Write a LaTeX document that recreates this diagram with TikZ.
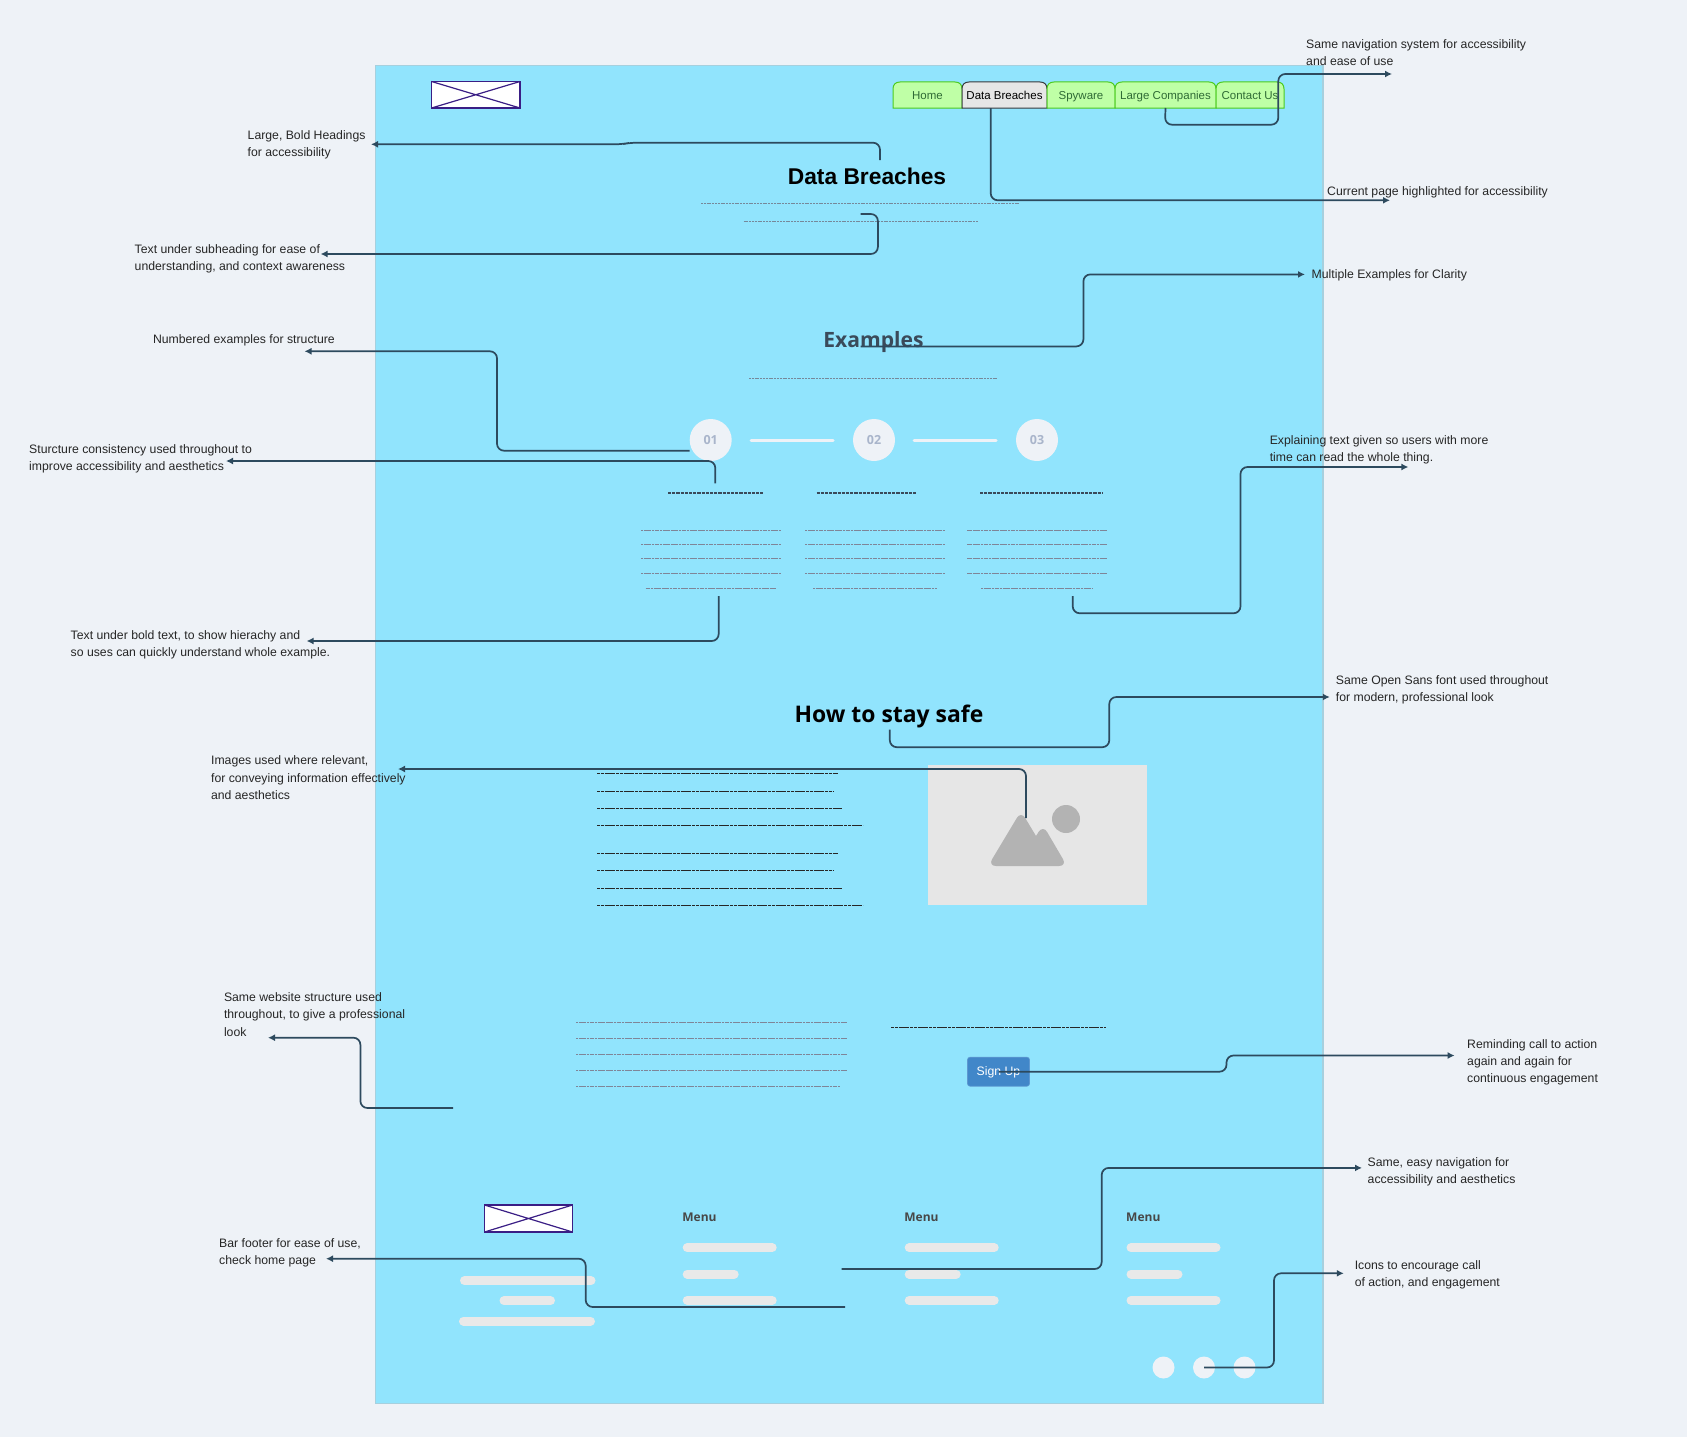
\documentclass[tikz,border=0pt]{standalone}
\usepackage{fontspec}
\setmainfont{Liberation Sans}
\newfontfamily\osans{Open Sans}
\usetikzlibrary{arrows.meta}
\definecolor{pagebg}{HTML}{EEF2F7}
\definecolor{panelblue}{HTML}{91E4FD}
\definecolor{paneledge}{HTML}{A6D0DE}
\definecolor{conncol}{HTML}{2D4A5E}
\definecolor{logoedge}{HTML}{3A1E85}
\definecolor{tabfill}{HTML}{BFFFA6}
\definecolor{tabedge}{HTML}{4CCB1F}
\definecolor{tabtext}{HTML}{2F6B35}
\definecolor{tabsel}{HTML}{E6E6E6}
\definecolor{tabseledge}{HTML}{36393D}
\definecolor{numcol}{HTML}{A9B5CB}
\definecolor{barcol}{HTML}{E9E9E9}
\definecolor{imgbox}{HTML}{E6E6E6}
\definecolor{imgmark}{HTML}{B3B3B3}
\definecolor{bodyline}{HTML}{7F8598}
\definecolor{subline}{HTML}{76889A}
\definecolor{btnblue}{HTML}{4187C9}
\definecolor{headcol}{HTML}{3A4A5A}
\tikzset{
  x=1pt,y=-1pt,
  note/.style={anchor=west,inner sep=0pt,align=left,font=\fontsize{12.25}{17.3}\selectfont,text=black!85},
  conn/.style={draw=conncol,line width=1.7pt,rounded corners=7pt,-{Latex[length=7pt,width=7pt]}},
  tabshape/.style={draw=tabedge,fill=tabfill,line width=1pt},
  seltab/.style={draw=tabseledge,fill=tabsel,line width=1pt},
  tablabel/.style={inner sep=0pt,text height=9pt,text depth=2.5pt,font=\fontsize{11.5}{14}\selectfont},
  logobox/.style={draw=logoedge,fill=white,line width=1.8pt},
  logoline/.style={draw=logoedge,line width=1.2pt},
  thindash/.style={draw=subline,line width=.6pt,dash pattern=on 2pt off .8pt},
  bodydash/.style={draw=bodyline,line width=.8pt,dash pattern=on 2.2pt off .5pt},
  darkdash/.style={draw=black!85,line width=1pt,dash pattern=on 3.2pt off .6pt},
  headdash/.style={draw=headcol,line width=1.6pt,dash pattern=on 3.2pt off 1pt},
  numcircle/.style={circle,fill=pagebg,minimum size=42pt,inner sep=0pt,text=numcol,font=\osans\bfseries\fontsize{12.5}{14}\selectfont},
  stepline/.style={draw=pagebg,line width=3pt,line cap=round},
  barline/.style={draw=barcol,line width=9pt,line cap=round},
  menulabel/.style={anchor=west,inner sep=0pt,text=black!72,font=\osans\bfseries\fontsize{12}{14}\selectfont},
  dotcircle/.style={circle,fill=pagebg,minimum size=22pt,inner sep=0pt},
}
\newcommand{\navtab}[6]{%
  \draw[#6] (#2,108) -- (#2,89) .. controls (#2,84.5) and (#2+2.5,82) .. (#2+7,82) -- (#3-7,82) .. controls (#3-2.5,82) and (#3,84.5) .. (#3,89) -- (#3,108) -- cycle;
  \node[tablabel,text=#5] (#1) at ({(#2+#3)/2},96.5) {#4};
}
\begin{document}
\begin{tikzpicture}
\useasboundingbox (0,0) rectangle (1687,1437);
\fill[pagebg] (0,0) rectangle (1687,1437);
\draw[paneledge,fill=panelblue,line width=1.4pt] (375.5,65.5) rectangle (1323,1403.5);

% header logo
\draw[logobox] (431.5,81.5) rectangle (520,108);
\draw[logoline] (431.5,81.5) -- (520,108) (431.5,108) -- (520,81.5);

% nav tabs
\navtab{tabhome}{893}{962}{Home}{tabtext}{tabshape}
\navtab{tabdata}{962}{1047}{Data Breaches}{black}{seltab}
\navtab{tabspy}{1047}{1115}{Spyware}{tabtext}{tabshape}
\navtab{tablarge}{1115}{1216}{Large Companies}{tabtext}{tabshape}
\navtab{tabcontact}{1216}{1284}{Contact Us}{tabtext}{tabshape}

% headings
\node[inner sep=0pt,font=\bfseries\fontsize{22.8}{28}\selectfont] (title) at (867,176) {Data Breaches};
\draw[thindash] (701,203.5) -- (1020,203.5);
\draw[thindash] (743.5,221.5) -- (978,221.5);

\node[inner sep=0pt,text=headcol,font=\osans\bfseries\fontsize{21.1}{26}\selectfont] (examples) at (873.5,342.5) {Examples};
\draw[thindash] (749,378.5) -- (998,378.5);

% numbered steps
\node[numcircle] (one) at (710.7,440) {01};
\node[numcircle] (two) at (874,440) {02};
\node[numcircle] (three) at (1037,440) {03};
\draw[stepline] (751,440) -- (833,440);
\draw[stepline] (914,440) -- (996,440);

\draw[headdash] (668,492.7) -- (762.5,492.7);
\draw[headdash] (816.5,492.7) -- (915.5,492.7);
\draw[headdash] (980,492.7) -- (1102,492.7);
\foreach \yy in {530.3,544.3,558.3,573.3} {
  \draw[bodydash] (641,\yy) -- (781,\yy);
  \draw[bodydash] (805,\yy) -- (945,\yy);
  \draw[bodydash] (967.3,\yy) -- (1106.5,\yy);
}
\draw[bodydash] (645.5,588.3) -- (776,588.3);
\draw[bodydash] (813,588.3) -- (937,588.3);
\draw[bodydash] (981,588.3) -- (1092.5,588.3);

% stay safe
\node[inner sep=0pt,text=black,font=\osans\bfseries\fontsize{22.9}{28}\selectfont] (safe) at (889,716) {How to stay safe};
\foreach \yy/\xx in {773.3/838,791/834,808.3/842,825.3/863,853.3/838,870/834,888/842,905/863} {
  \draw[darkdash] (597,\yy) -- (\xx,\yy);
}
\fill[imgbox] (927.5,765) rectangle (1146.7,905);
\fill[imgmark] (1066,819) circle (14pt);
\fill[imgmark] (1036,836) [rounded corners=8pt] -- (1021,811) -- (988,866) -- (1067,866) -- (1043,825) [sharp corners] -- cycle;

% lower block
\foreach \yy in {1022.3,1038.3,1054.3,1070.3} {
  \draw[bodydash] (576,\yy) -- (847,\yy);
}
\draw[bodydash] (576,1086.3) -- (840,1086.3);
\draw[darkdash] (891,1027.3) -- (1105.7,1027.3);
\node[draw=btnblue!85!white,fill=btnblue,rounded corners=2.5pt,line width=.6pt,minimum width=62pt,minimum height=29pt,inner sep=0pt,text=white,text height=10pt,text depth=1.5pt,font=\fontsize{12.25}{14}\selectfont] (signup) at (998.5,1071.7) {Sign Up};

% footer
\draw[logobox] (484.5,1205) rectangle (572.5,1232);
\draw[logoline] (484.5,1205) -- (572.5,1232) (484.5,1232) -- (572.5,1205);
\draw[barline] (464.5,1280.7) -- (591,1280.7);
\draw[barline] (504,1300.7) -- (550.5,1300.7);
\draw[barline] (463.5,1321) -- (590.5,1321);
\foreach \xx [count=\ii] in {682.2,904.2,1126} {
  \node[menulabel] (menu\ii) at (\xx,1217.7) {Menu};
  \draw[barline] (\xx+5,1247.7) -- (\xx+90,1247.7);
  \draw[barline] (\xx+5,1274) -- (\xx+52,1274);
  \draw[barline] (\xx+5,1300.3) -- (\xx+90,1300.3);
}
\node[dotcircle] (dota) at (1163.5,1367.5) {};
\node[dotcircle] (dotb) at (1204,1367.5) {};
\node[dotcircle] (dotc) at (1244.5,1367.5) {};

% notes
\node[note] (nnav) at (1306,52.5) {Same navigation system for accessibility\\and ease of use};
\node[note] (nhead) at (247.5,145) {Large, Bold Headings\\for accessibility};
\node[note] (ncur) at (1327,192) {Current page highlighted for accessibility};
\node[note] (nsub) at (134.5,258.5) {Text under subheading for ease of\\understanding, and context awareness};
\node[note] (nmulti) at (1311.5,275.3) {Multiple Examples for Clarity};
\node[note] (nnum) at (152.8,340) {Numbered examples for structure};
\node[note] (nstruct) at (29,458.5) {Sturcture consistency used throughout to\\improve accessibility and aesthetics};
\node[note] (nexpl) at (1269.6,450) {Explaining text given so users with more\\time can read the whole thing.};
\node[note] (nbold) at (70.5,644.8) {Text under bold text, to show hierachy and\\so uses can quickly understand whole example.};
\node[note] (nfont) at (1335.7,690) {Same Open Sans font used throughout\\for modern, professional look};
\node[note] (nimg) at (210.9,777.8) {Images used where relevant,\\for conveying information effectively\\and aesthetics};
\node[note] (nweb) at (223.8,1014.6) {Same website structure used\\throughout, to give a professional\\look};
\node[note] (nremind) at (1467,1062.5) {Reminding call to action\\again and again for\\continuous engagement};
\node[note] (nease) at (1367.5,1171.6) {Same, easy navigation for\\accessibility and aesthetics};
\node[note] (nbar) at (219,1252.9) {Bar footer for ease of use,\\check home page};
\node[note] (nicon) at (1354.6,1274.9) {Icons to encourage call\\of action, and engagement};

% connector ends
\coordinate (s1) at (880,160); \coordinate (e1) at (371,144.3);
\coordinate (s2) at (860.7,214); \coordinate (e2) at (320.6,254);
\coordinate (s3) at (one.west |- 0,450.7); \coordinate (e3) at (304.5,351.3);
\coordinate (s4) at (715.3,483.3); \coordinate (e4) at (226,461);
\coordinate (s5) at (718.7,596); \coordinate (e5) at (306.6,641);
\coordinate (s6) at (1072.7,596); \coordinate (e6) at (1408.4,467);
\coordinate (s7) at (860.7,346.4); \coordinate (e7) at (1305,274.4);
\coordinate (s8) at (tablarge.center |- 0,108); \coordinate (e8) at (1392,74);
\coordinate (s9) at (990.7,108); \coordinate (e9) at (1390,200.3);
\coordinate (s10) at (889.8,729.5); \coordinate (e10) at (1329.8,697);
\coordinate (s11) at (1026,818); \coordinate (e11) at (398,769);
\coordinate (s12) at (453,1108); \coordinate (e12) at (268,1037.7);
\coordinate (s13) at (signup.center); \coordinate (e13) at (1454.6,1055.5);
\coordinate (s14) at (841.7,1269); \coordinate (e14) at (1362,1167.9);
\coordinate (s15) at (845,1307); \coordinate (e15) at (326,1258.7);
\coordinate (s16) at (dotb.center); \coordinate (e16) at (1343.8,1273.3);

% connectors
\draw[conn] (s1) -- (880,142.7) -- (630,142.7) -- (622,144.3) -- (e1);
\draw[conn] (s2) -- (877.9,214) -- (877.9,254) -- (e2);
\draw[conn] (s3) -- (497,450.7) -- (497,351.3) -- (e3);
\draw[conn] (s4) -- (715.3,461) -- (e4);
\draw[conn] (s5) -- (718.7,641) -- (e5);
\draw[conn] (s6) -- (1072.7,613.3) -- (1240.5,613.3) -- (1240.5,467) -- (e6);
\draw[conn] (s7) -- (1083.4,346.4) -- (1083.4,274.4) -- (e7);
\draw[conn] (s8) -- (1165,124.7) -- (1278.3,124.7) -- (1278.3,74) -- (e8);
\draw[conn] (s9) -- (990.7,200.3) -- (e9);
\draw[conn] (s10) -- (889.8,747.2) -- (1109.3,747.2) -- (1109.3,697) -- (e10);
\draw[conn] (s11) -- (1026,769) -- (e11);
\draw[conn] (s12) -- (360.4,1108) -- (360.4,1037.7) -- (e12);
\draw[conn] (s13) -- (1226.5,1071.7) -- (1226.5,1055.5) -- (e13);
\draw[conn] (s14) -- (1101.7,1269) -- (1101.7,1167.9) -- (e14);
\draw[conn] (s15) -- (585.7,1307) -- (585.7,1258.7) -- (e15);
\draw[conn] (s16) -- (1274,1367.5) -- (1274,1273.3) -- (e16);
\end{tikzpicture}
\end{document}
